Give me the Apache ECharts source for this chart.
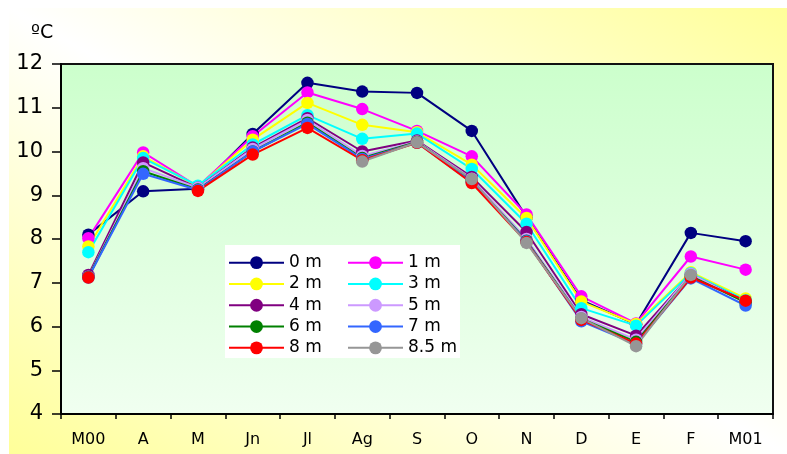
<!DOCTYPE html>
<html><head><meta charset="utf-8">
<script src="https://cdn.jsdelivr.net/npm/echarts@6/dist/echarts.min.js"></script>
<style>html,body{margin:0;padding:0;background:#fff}#c{width:787px;height:454px}</style>
</head><body><div id="c"></div>
<script>
const categories = ['M00','A','M','Jn','Jl','Ag','S','O','N','D','E','F','M01'];
const seriesNames = ['0 m','1 m','2 m','3 m','4 m','5 m','6 m','7 m','8 m','8.5 m'];
const depth0  = [8.10, 9.09, 9.15, 10.40, 11.57, 11.37, 11.34, 10.47, 8.50, 6.60, 6.05, 8.14, 7.95];
const depth1  = [8.02, 9.98, 9.20, 10.35, 11.35, 10.97, 10.47, 9.89, 8.56, 6.69, 6.07, 7.60, 7.30];
const depth2  = [7.83, 9.89, 9.20, 10.27, 11.11, 10.61, 10.44, 9.70, 8.48, 6.57, 6.06, 7.24, 6.64];
const depth3  = [7.70, 9.85, 9.22, 10.16, 10.83, 10.29, 10.41, 9.60, 8.35, 6.42, 6.02, 7.22, 6.60];
const depth4  = [7.18, 9.75, 9.17, 10.09, 10.76, 10.00, 10.25, 9.42, 8.16, 6.28, 5.79, 7.19, 6.57];
const depth5  = [7.14, 9.62, 9.17, 10.06, 10.72, 9.90, 10.23, 9.38, 8.00, 6.22, 5.70, 7.20, 6.55];
const depth6  = [7.13, 9.55, 9.13, 10.00, 10.66, 9.85, 10.22, 9.33, 7.96, 6.18, 5.65, 7.15, 6.55];
const depth7  = [7.12, 9.49, 9.12, 10.00, 10.63, 9.83, 10.20, 9.30, 7.95, 6.12, 5.60, 7.10, 6.48];
const depth8  = [7.12, null, 9.10, 9.93, 10.54, 9.80, 10.20, 9.28, 7.93, 6.15, 5.61, 7.12, 6.59];
const depth85 = [null, null, null, null, null, 9.77, 10.21, 9.37, 7.91, 6.19, 5.55, 7.18, null];
const yTicks = {min: 4, max: 12, interval: 1};

const allData = [depth0, depth1, depth2, depth3, depth4, depth5, depth6, depth7, depth8, depth85];
const colors = ['#000080','#ff00ff','#ffff00','#00ffff','#800080','#cc99ff','#008000','#3366ff','#ff0000','#969696'];
const FONT = 'DejaVu Sans';

const chart = echarts.init(document.getElementById('c'), null, {renderer: 'canvas'});
const series = seriesNames.map((n, i) => ({
  name: n, type: 'line', data: allData[i],
  symbol: 'circle', symbolSize: 12.5, showAllSymbol: true,
  lineStyle: {color: colors[i], width: 2},
  itemStyle: {color: colors[i]},
  emphasis: {disabled: true}
}));

chart.setOption({
  animation: false,
  color: colors,
  graphic: [
    {type: 'rect', z: -10, silent: true, shape: {x: 9, y: 8, width: 778, height: 446},
     style: {fill: new echarts.graphic.LinearGradient(-183, 344, 203, -328, [
       {offset: 0, color: '#ffff99'}, {offset: 0.5, color: '#ffffff'}, {offset: 1, color: '#ffff99'}], true)}},
    {type: 'rect', z: 3, silent: true, shape: {x: 225, y: 245, width: 235, height: 113},
     style: {fill: '#ffffff'}}
  ],
  title: {text: 'ºC', left: 26, top: 19, textStyle: {fontFamily: FONT, fontSize: 19, fontWeight: 'normal', color: '#000'}},
  grid: {left: 61, right: 14, top: 64, bottom: 40, show: true,
    backgroundColor: new echarts.graphic.LinearGradient(0, 0, 0, 1, [
      {offset: 0, color: '#ccffcc'}, {offset: 1, color: '#f0fff0'}]),
    borderColor: '#111', borderWidth: 2},
  legend: [
    {data: ['0 m','2 m','4 m','6 m','8 m'], orient: 'vertical', left: 228, top: 252, padding: 0,
     itemWidth: 55, itemHeight: 16, itemGap: 0, z: 6, selectedMode: false,
     textStyle: {fontFamily: FONT, fontSize: 17, color: '#000', lineHeight: 21.3}},
    {data: ['1 m','3 m','5 m','7 m','8.5 m'], orient: 'vertical', left: 347, top: 252, padding: 0,
     itemWidth: 55, itemHeight: 16, itemGap: 0, z: 6, selectedMode: false,
     textStyle: {fontFamily: FONT, fontSize: 17, color: '#000', lineHeight: 21.3}}
  ],
  xAxis: {type: 'category', data: categories, boundaryGap: true,
    axisLine: {lineStyle: {color: '#000', width: 2}},
    axisTick: {show: true, length: 5, lineStyle: {color: '#000', width: 1.5}},
    axisLabel: {fontFamily: FONT, fontSize: 16, color: '#000', margin: 18}},
  yAxis: {type: 'value', min: yTicks.min, max: yTicks.max, interval: yTicks.interval,
    axisLine: {show: true, lineStyle: {color: '#000', width: 2}},
    axisTick: {show: true, length: 9, lineStyle: {color: '#000', width: 1.5}},
    splitLine: {show: false},
    axisLabel: {fontFamily: FONT, fontSize: 21, color: '#000', margin: 18}},
  series: series
});
</script></body></html>
